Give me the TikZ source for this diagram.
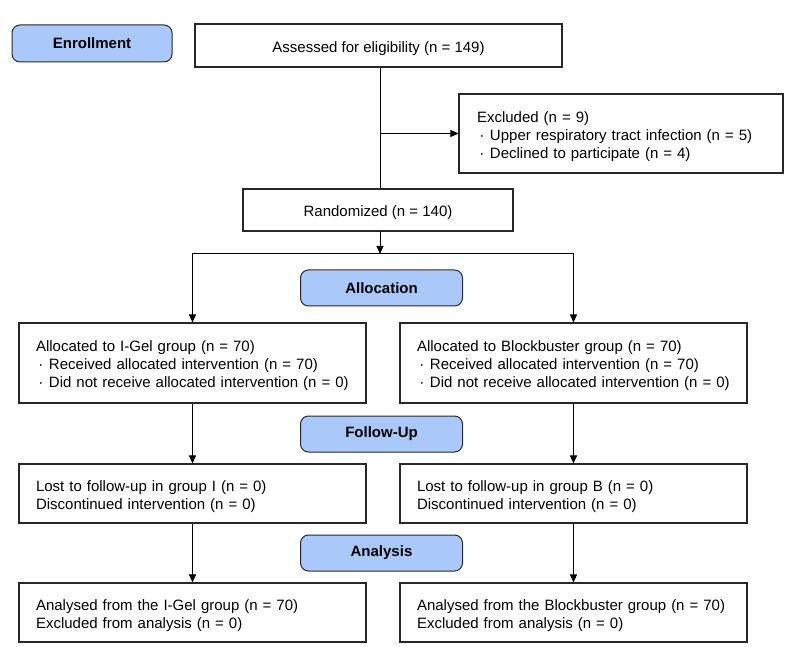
\documentclass[tikz,border=0pt]{standalone}
\usepackage{fontspec}
\setmainfont{Liberation Sans}
\usetikzlibrary{arrows.meta}
\definecolor{lblue}{RGB}{170,200,250}
\definecolor{bord}{RGB}{40,40,40}
\newcommand{\bul}{\makebox[13pt][l]{\hspace{2.3pt}·}}
\begin{document}
\begin{tikzpicture}[x=1pt,y=-1pt,
  every node/.style={font=\fontsize{15pt}{18pt}\selectfont, text=black},
  box/.style={draw=bord, line width=1.1pt, rectangle, inner sep=0pt, align=left,
    execute at begin node={\rule{0pt}{16.5pt}}},
  stage/.style={draw=bord, line width=1pt, fill=lblue, rounded corners=8pt,
    minimum width=162pt, minimum height=36pt, inner sep=0pt,
    font=\fontsize{15pt}{18pt}\selectfont\bfseries},
  arr/.style={line width=1pt, -{Triangle[length=8pt,width=7pt]}},
  ln/.style={line width=1pt}]
\useasboundingbox (0,0) rectangle (793,647);
% stage labels
\node[stage, minimum width=160pt, minimum height=37pt] (enr) at (92,43.5) {Enrollment};
\node[stage] (alloc) at (381.5,288) {Allocation};
\node[stage] (fup) at (381.5,434) {Follow-Up};
\node[stage] (ana) at (381.5,553) {Analysis};
% boxes
\node[box, minimum width=367pt, minimum height=43pt, align=center] (ass) at (378.5,45.5) {Assessed for eligibility (n = 149)};
\node[box, minimum width=324pt, minimum height=79pt, text width=288pt] (exc) at (621,133.5)
  {Excluded (n = 9)\\\bul Upper respiratory tract infection (n = 5)\\\bul Declined to participate (n = 4)};
\node[box, minimum width=270pt, minimum height=42pt, align=center] (rand) at (378,210) {Randomized (n = 140)};
\node[box, minimum width=347pt, minimum height=80pt, text width=313pt] (allL) at (192.5,363)
  {Allocated to I-Gel group (n = 70)\\\bul Received allocated intervention (n = 70)\\\bul Did not receive allocated intervention (n = 0)};
\node[box, minimum width=347pt, minimum height=80pt, text width=313pt] (allR) at (573.5,363)
  {Allocated to Blockbuster group (n = 70)\\\bul Received allocated intervention (n = 70)\\\bul Did not receive allocated intervention (n = 0)};
\node[box, minimum width=347pt, minimum height=59pt, text width=313pt] (lostL) at (192.5,493.5)
  {Lost to follow-up in group I (n = 0)\\Discontinued intervention (n = 0)};
\node[box, minimum width=347pt, minimum height=59pt, text width=313pt] (lostR) at (573.5,493.5)
  {Lost to follow-up in group B (n = 0)\\Discontinued intervention (n = 0)};
\node[box, minimum width=347pt, minimum height=59pt, text width=313pt] (anL) at (192.5,612.5)
  {Analysed from the I-Gel group (n = 70)\\Excluded from analysis (n = 0)};
\node[box, minimum width=347pt, minimum height=59pt, text width=313pt] (anR) at (573.5,612.5)
  {Analysed from the Blockbuster group (n = 70)\\Excluded from analysis (n = 0)};
% connectors
\coordinate (m) at (380,0);
\coordinate (split) at (380,254);
\draw[ln] (ass.south -| m) -- (rand.north -| m);
\draw[arr] (exc.west -| m) -- (exc.west);
\draw[arr] (rand.south -| m) -- (split);
\draw[arr] (split) -| (allL.north);
\draw[arr] (split) -| (allR.north);
\draw[arr] (allL.south) -- (lostL.north);
\draw[arr] (allR.south) -- (lostR.north);
\draw[arr] (lostL.south) -- (anL.north);
\draw[arr] (lostR.south) -- (anR.north);
\end{tikzpicture}
\end{document}
